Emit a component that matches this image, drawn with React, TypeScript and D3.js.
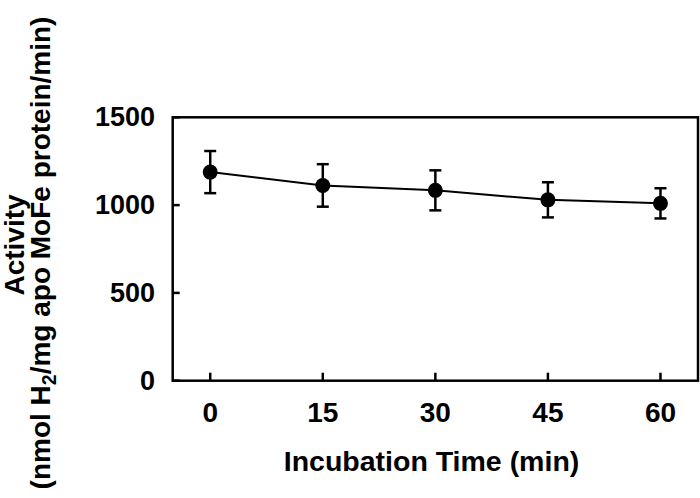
import React from "react";
import * as d3 from "d3";

const times = [0, 15, 30, 45, 60];
const activity = [1188, 1112, 1084, 1030, 1010];
const errors = [120, 121, 114, 100, 86];
const yTicks = [0, 500, 1000, 1500];
const xTicks = [0, 15, 30, 45, 60];

const W = 700;
const H = 498;
const left = 172.7;
const right = 698;
const top = 117.3;
const bottom = 380.7;
const FONT = "'Liberation Sans', Arial, Helvetica, sans-serif";

export default function App() {
  const x = d3.scaleLinear().domain([-5, 65]).range([left, right]);
  const y = d3.scaleLinear().domain([0, 1500]).range([bottom, top]);
  const line = d3
    .line<number>()
    .x((_, i) => x(times[i]))
    .y((d) => y(d));

  return (
    <svg
      width={W}
      height={H}
      style={{ position: "absolute", left: 0, top: 0, background: "#fff" }}
      fontFamily={FONT}
      fontWeight="bold"
    >
      <rect x={0} y={0} width={W} height={H} fill="#fff" />
      {/* frame */}
      <rect
        x={left}
        y={top}
        width={right - left}
        height={bottom - top}
        fill="none"
        stroke="#000"
        strokeWidth={2.5}
      />
      {/* y ticks */}
      {yTicks.map((t) => (
        <g key={"y" + t}>
          <line x1={left} x2={left + 7} y1={y(t)} y2={y(t)} stroke="#000" strokeWidth={2.5} />
          <text
            x={155}
            y={y(t)}
            textAnchor="end"
            dominantBaseline="central"
            fontSize={27}
          >
            {t}
          </text>
        </g>
      ))}
      {/* x ticks */}
      {xTicks.map((t) => (
        <g key={"x" + t}>
          <line x1={x(t)} x2={x(t)} y1={bottom} y2={bottom - 8} stroke="#000" strokeWidth={2.5} />
          <text x={x(t)} y={421.7} textAnchor="middle" fontSize={28}>
            {t}
          </text>
        </g>
      ))}
      {/* line */}
      <path d={line(activity) || ""} fill="none" stroke="#000" strokeWidth={2} />
      {/* error bars */}
      {activity.map((v, i) => {
        const cx = x(times[i]);
        return (
          <g key={"e" + i} stroke="#000" strokeWidth={2.5}>
            <line x1={cx} x2={cx} y1={y(v - errors[i])} y2={y(v + errors[i])} />
            <line x1={cx - 6} x2={cx + 6} y1={y(v + errors[i])} y2={y(v + errors[i])} />
            <line x1={cx - 6} x2={cx + 6} y1={y(v - errors[i])} y2={y(v - errors[i])} />
          </g>
        );
      })}
      {/* markers */}
      {activity.map((v, i) => (
        <circle key={"c" + i} cx={x(times[i])} cy={y(v)} r={7.5} fill="#000" />
      ))}
      {/* x title */}
      <text x={431.5} y={470.7} textAnchor="middle" fontSize={28.5}>
        Incubation Time (min)
      </text>
      {/* y title */}
      <g transform={`translate(24, 245) rotate(-90)`}>
        <text x={0} y={0} textAnchor="middle" fontSize={28}>
          Activity
        </text>
      </g>
      <g transform={`translate(50, 253) rotate(-90)`}>
        <text x={0} y={0} textAnchor="middle" fontSize={28}>
          (nmol H
          <tspan fontSize={19.5} dy={6}>
            2
          </tspan>
          <tspan dy={-6}>/mg apo MoFe protein/min)</tspan>
        </text>
      </g>
    </svg>
  );
}
